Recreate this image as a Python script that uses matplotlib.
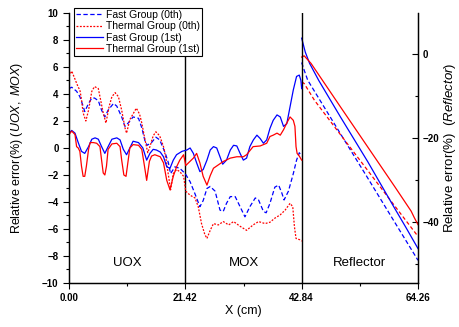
import matplotlib
matplotlib.use("Agg")
import matplotlib.pyplot as plt
from matplotlib.ticker import MultipleLocator, FixedLocator

plt.rcParams['font.family'] = ['Liberation Sans', 'DejaVu Sans']
plt.rcParams['mathtext.fontset'] = 'custom'
plt.rcParams['mathtext.rm'] = 'Liberation Sans'
plt.rcParams['mathtext.it'] = 'Liberation Sans:italic'

# region boundaries (cm)
bounds = [0.0, 21.42, 42.84, 64.26]
regions = ["UOX", "MOX", "Reflector"]

# ---- UOX + MOX, left axis (%) ----
fast0_x = [0.0, 0.5, 1.4, 2.0, 2.6, 2.9, 3.6, 4.2, 4.7, 5.4, 6.0, 6.6, 7.2, 8.2, 8.8, 9.7,
           10.3, 10.9, 11.8, 12.8, 13.4, 14.0, 14.4, 15.2, 16.0, 16.7, 17.7, 18.3, 18.7,
           19.5, 20.4, 21.4, 22.3, 23.2, 24.1, 24.7, 25.4, 26.0, 26.9, 27.8, 28.4, 29.0,
           29.7, 30.6, 31.5, 32.4, 33.3, 34.3, 34.9, 35.8, 36.3, 37.0, 37.9, 38.6, 39.2,
           39.6, 40.4, 41.3, 41.9, 42.4, 42.84]
fast0_y = [4.4, 4.5, 4.2, 3.8, 3.1, 2.7, 3.3, 3.7, 3.7, 3.5, 2.8, 2.3, 2.8, 3.3, 3.1, 2.3,
           1.6, 1.85, 2.3, 2.2, 1.5, 0.5, 0.2, 0.4, 0.8, 0.6, -0.35, -1.1, -1.9,
           -1.4, -1.5, -1.9, -2.5, -3.4, -4.35, -3.9, -3.0, -2.85, -3.2, -4.6, -4.7, -4.1,
           -3.6, -3.6, -4.35, -5.1, -4.35, -3.7, -3.85, -4.7, -4.8, -4.1, -2.9, -2.75, -3.35,
           -3.85, -3.2, -1.9, -0.9, -0.35, -0.6]

therm0_x = [0.0, 0.5, 1.4, 1.7, 2.0, 2.3, 2.6, 3.1, 3.6, 4.2, 4.7, 5.4, 5.7, 6.3, 6.8, 7.4,
            7.9, 8.5, 9.1, 9.7, 10.3, 10.6, 11.2, 12.4, 13.0, 13.4, 14.0, 14.5, 14.9, 15.5,
            16.0, 16.7, 17.4, 17.9, 18.3, 18.7, 19.2, 19.8, 20.4, 21.1, 21.5, 22.3, 23.2,
            23.8, 24.4, 25.0, 25.4, 26.0, 26.6, 27.5, 28.4, 29.4, 30.3, 31.5, 32.7, 33.9,
            34.9, 36.1, 37.0, 37.9, 38.9, 39.8, 40.7, 41.2, 41.5, 41.8, 42.5, 42.84]
therm0_y = [5.3, 5.7, 4.8, 4.5, 4.3, 3.6, 2.6, 2.0, 2.8, 4.2, 4.55, 4.4, 3.8, 2.6, 1.85, 3.1,
            3.8, 4.1, 3.8, 2.8, 1.5, 1.1, 2.1, 2.95, 2.5, 1.85, 0.6, -0.35, 0.1, 0.9,
            1.2, 0.9, 0.1, -0.9, -2.0, -3.1, -1.9, -1.6, -1.75, -2.1, -3.2, -3.5, -3.7,
            -4.35, -5.6, -6.4, -6.7, -6.1, -5.6, -5.7, -5.45, -5.7, -5.45, -5.8, -6.1, -5.7,
            -5.45, -5.6, -5.5, -5.2, -4.95, -4.6, -4.1, -4.35, -5.8, -6.7, -6.8, -6.9]

fast1_x = [0.0, 0.5, 1.1, 1.7, 2.3, 2.9, 3.6, 4.2, 4.8, 5.4, 6.0, 6.6, 7.2, 7.9, 8.8, 9.4,
           10.0, 10.6, 11.2, 11.8, 12.8, 13.6, 14.3, 14.9, 15.5, 16.1, 16.8, 17.4, 18.0,
           18.6, 19.2, 19.8, 20.8, 21.7, 22.3, 22.9, 23.5, 24.1, 24.7, 25.4, 26.0, 26.6,
           27.2, 27.8, 28.3, 29.0, 29.7, 30.3, 30.9, 31.5, 32.1, 32.7, 33.3, 33.95, 34.6,
           35.2, 35.8, 36.4, 37.0, 37.6, 38.3, 38.9, 39.5, 40.1, 40.7, 41.3, 41.9, 42.4,
           42.7, 42.84]
fast1_y = [1.1, 1.3, 1.1, 0.4, -0.25, -0.4, 0.1, 0.65, 0.75, 0.65, 0.1, -0.4, 0.1, 0.65, 0.75, 0.6,
           -0.1, -0.5, 0.0, 0.5, 0.4, 0.0, -0.9, -0.4, -0.1, -0.15, -0.3, -0.65, -1.4,
           -1.5, -0.9, -0.5, -0.25, -0.15, 0.0, -0.4, -1.1, -1.75, -1.6, -0.9, -0.15, 0.1,
           0.0, -0.65, -1.2, -0.9, -0.15, 0.2, 0.15, -0.4, -0.9, -0.75, 0.1, 0.6, 0.95,
           0.7, 0.35, 0.6, 1.45, 2.05, 2.45, 2.3, 1.6, 1.8, 3.05, 4.3, 5.3, 5.4,
           5.0, 4.4]

therm1_x = [0.0, 0.5, 1.1, 1.4, 1.7, 2.0, 2.3, 2.6, 2.9, 3.2, 3.6, 3.9, 4.5, 5.1, 5.7, 6.0,
            6.3, 6.6, 6.9, 7.2, 7.9, 8.8, 9.4, 9.7, 10.1, 10.5, 10.9, 11.2, 11.8, 12.8,
            13.4, 13.9, 14.3, 14.8, 15.2, 15.8, 16.8, 17.4, 18.0, 18.6, 19.2, 19.8, 20.4,
            21.1, 21.5, 22.0, 22.9, 23.5, 24.1, 24.7, 25.4, 26.0, 26.6, 27.5, 28.4, 29.7,
            30.9, 32.1, 32.7, 33.9, 35.2, 36.4, 37.0, 37.6, 38.3, 38.9, 39.5, 40.1, 40.7,
            41.3, 41.6, 41.8, 42.0, 42.4, 42.84]
therm1_y = [1.0, 1.25, 1.0, 0.1, 0.0, -0.25, -1.35, -2.1, -2.1, -1.35, -0.1, 0.4, 0.4, 0.35, 0.1, -0.9,
            -1.85, -2.0, -1.35, -0.1, 0.3, 0.35, 0.1, -0.9, -2.0, -2.1, -0.9, 0.0, 0.25, 0.2,
            -0.1, -1.35, -2.4, -1.0, -0.6, -0.5, -0.65, -1.1, -2.4, -3.1, -2.1, -1.4, -0.9,
            -0.5, -1.3, -1.1, -0.75, -0.4, -1.1, -2.1, -2.75, -2.05, -1.5, -1.25, -1.0, -0.75,
            -0.65, -0.65, -0.5, 0.1, 0.15, 0.35, 0.85, 0.95, 1.1, 0.95, 1.35, 1.85, 2.3,
            2.05, 1.6, 0.1, -0.4, -0.6, -0.9]

# ---- Reflector, right axis (%) ----
rf_fast0_x = [42.84, 43.3, 43.95, 50.0, 55.0, 60.0, 64.26]
rf_fast0_y = [-2.0, -3.8, -6.2, -19.0, -29.5, -40.1, -49.1]
rf_therm0_x = [42.84, 43.3, 45.2, 50.0, 55.0, 60.0, 64.26]
rf_therm0_y = [-6.6, -7.0, -11.0, -19.2, -27.7, -36.2, -43.4]
rf_fast1_x = [42.84, 43.5, 44.3, 46.0, 50.0, 55.0, 60.0, 62.0, 64.26]
rf_fast1_y = [3.8, 0.5, -2.2, -6.3, -15.0, -25.6, -36.8, -41.2, -46.3]
rf_therm1_x = [42.84, 43.3, 44.56, 50.0, 55.0, 60.0, 63.0, 63.6, 64.26]
rf_therm1_y = [-0.7, -0.4, -2.2, -12.6, -22.1, -31.6, -37.4, -39.0, -40.6]

labels = ["Fast Group (0th)", "Thermal Group (0th)", "Fast Group (1st)", "Thermal Group (1st)"]
blue = "#0000ff"
red = "#ff0000"
dash = (0, (3.5, 2))
dot = (0, (1.5, 1.2))

fig = plt.figure(figsize=(4.6, 3.27), dpi=100)
ax = fig.add_axes([0.15, 0.1346, 0.7587, 0.8257])
ax2 = ax.twinx()

lw = 0.9
h1, = ax.plot(fast0_x, fast0_y, color=blue, ls=dash, lw=lw)
h2, = ax.plot(therm0_x, therm0_y, color=red, ls=dot, lw=lw)
h3, = ax.plot(fast1_x, fast1_y, color=blue, ls='-', lw=lw)
h4, = ax.plot(therm1_x, therm1_y, color=red, ls='-', lw=lw)

ax2.plot(rf_fast0_x, rf_fast0_y, color=blue, ls=dash, lw=lw)
ax2.plot(rf_therm0_x, rf_therm0_y, color=red, ls=(0, (3, 2)), lw=lw)
ax2.plot(rf_fast1_x, rf_fast1_y, color=blue, ls='-', lw=lw)
ax2.plot(rf_therm1_x, rf_therm1_y, color=red, ls='-', lw=lw)

for b in bounds[1:3]:
    ax.axvline(b, color='black', lw=1.0, zorder=1)

for i, name in enumerate(regions):
    ax.text((bounds[i] + bounds[i + 1]) / 2, -8.5, name, ha='center', va='center', fontsize=9.5)

ax.set_xlim(bounds[0], bounds[-1])
ax.set_ylim(-10, 10)
ax2.set_ylim(-54.5, 9.8)

ax.set_xticks(bounds)
ax.set_xticklabels(["%.2f" % b for b in bounds])
ax.xaxis.set_minor_locator(FixedLocator([(bounds[i] + bounds[i + 1]) / 2 for i in range(3)]))
ax.yaxis.set_major_locator(MultipleLocator(2))
ax.yaxis.set_minor_locator(MultipleLocator(1))
ax2.yaxis.set_major_locator(FixedLocator([0, -20, -40]))
ax2.yaxis.set_minor_locator(FixedLocator([10, -10, -30, -50]))

ax.tick_params(axis='both', which='major', direction='out', length=4, width=0.8, labelsize=7)
ax.tick_params(axis='both', which='minor', direction='out', length=2.5, width=0.8)
ax2.tick_params(axis='y', which='major', direction='in', length=4, width=0.8, labelsize=7)
ax2.tick_params(axis='y', which='minor', direction='in', length=2.5, width=0.8)
for t in ax.get_xticklabels() + ax.get_yticklabels() + ax2.get_yticklabels():
    t.set_fontweight('bold')

for a in (ax, ax2):
    a.spines['top'].set_visible(False)
    for s in ('left', 'right', 'bottom'):
        a.spines[s].set_linewidth(0.9)

ax.set_xlabel("X (cm)", fontsize=9)
ax.xaxis.set_label_coords(0.5, -0.08)
ax.set_ylabel(r"Relative error(%) $\mathit{(UOX,\ MOX)}$", fontsize=9)
ax.yaxis.set_label_coords(-0.125, 0.5)
ax2.set_ylabel(r"Relative error(%)  $\mathit{(Reflector)}$", fontsize=9.5)
ax2.yaxis.set_label_coords(1.07, 0.5)

leg = ax.legend([h1, h2, h3, h4], labels, loc='upper left', bbox_to_anchor=(0.161, 0.9755),
                bbox_transform=fig.transFigure, borderaxespad=0, fontsize=7.5,
                handlelength=2.6, handletextpad=0.3, labelspacing=0.12, borderpad=0.2,
                fancybox=False, framealpha=1, edgecolor='black')
leg.get_frame().set_linewidth(0.8)
leg.set_zorder(10)
ax.set_zorder(ax2.get_zorder() + 1)
ax.patch.set_visible(False)

fig.savefig("out.png", dpi=100)
